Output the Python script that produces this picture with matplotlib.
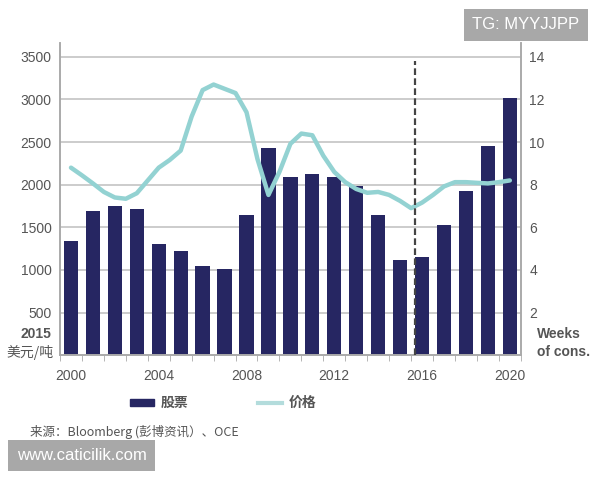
import matplotlib.pyplot as plt
from matplotlib.lines import Line2D
from matplotlib.patches import Patch

plt.rcParams['font.family'] = ['Liberation Sans', 'Noto Sans CJK SC', 'DejaVu Sans']

# stocks, weeks of consumption (bars, right axis)
years = list(range(2000, 2021))
stocks = [5.38, 6.78, 7.0, 6.86, 5.21, 4.88, 4.18, 4.05, 6.58, 9.7, 8.37,
          8.5, 8.34, 7.95, 6.59, 4.47, 4.63, 6.13, 7.7, 9.81, 12.08]

# price, 2015 USD/t (line, left axis)
price_years = [2000.0, 2000.5, 2001.0, 2001.5, 2002.0, 2002.5, 2003.0, 2003.5,
               2004.0, 2004.5, 2005.0, 2005.5, 2006.0, 2006.5, 2007.0, 2007.5,
               2008.0, 2008.5, 2009.0, 2009.5, 2010.0, 2010.5, 2011.0, 2011.5,
               2012.0, 2012.5, 2013.0, 2013.5, 2014.0, 2014.5, 2015.0, 2015.5,
               2016.0, 2016.5, 2017.0, 2017.5, 2018.0, 2018.5, 2019.0, 2019.5,
               2020.0]
price = [2200, 2110, 2015, 1915, 1850, 1835, 1900, 2050,
         2200, 2290, 2400, 2800, 3110, 3175, 3125, 3075,
         2850, 2300, 1880, 2150, 2480, 2600, 2580, 2340,
         2150, 2030, 1950, 1905, 1915, 1880, 1810, 1725,
         1790, 1880, 1980, 2030, 2030, 2022, 2015, 2030,
         2050]

xlabels = [2000, 2004, 2008, 2012, 2016, 2020]
left_ticks = [500, 1000, 1500, 2000, 2500, 3000, 3500]
right_ticks = [2, 4, 6, 8, 10, 12, 14]
forecast_start = 2015.7

bar_col = '#262662'
line_col = '#93d2d2'
txt_col = '#555555'
grid_col = '#c4c4c4'

fig = plt.figure(figsize=(6, 4.8), dpi=100)
ax = fig.add_axes([0.1, 0.26, 0.768, 0.65])
ax2 = ax.twinx()

# bars + grid on the back axis
ax2.bar(years, stocks, width=0.65, color=bar_col, zorder=2)
ax2.set_ylim(0, 14.64)
ax2.set_yticks(right_ticks)
ax2.grid(axis='y', color=grid_col, linewidth=1.2, zorder=0)
ax2.set_axisbelow(True)

# line on the front axis
ax.set_zorder(ax2.get_zorder() + 1)
ax.patch.set_visible(False)
ax.plot(price_years, price, color=line_col, linewidth=3.2,
        solid_capstyle='round', solid_joinstyle='round', zorder=3)
ax.set_ylim(0, 3660)
ax.set_yticks(left_ticks)
ax.axvline(forecast_start, ymax=3450 / 3660, color='#444444',
           linestyle=(0, (3, 1.5)), linewidth=1.6, zorder=4)

ax.set_xlim(1999.5, 2020.5)
ax.set_xticks(xlabels)
ax.set_xticks([y + 0.5 for y in range(1999, 2021)], minor=True)
ax.tick_params(axis='x', which='major', length=0, pad=10, labelsize=10, labelcolor=txt_col)
ax.tick_params(axis='x', which='minor', length=4, color='#aaaaaa', direction='out')

for a in (ax, ax2):
    a.tick_params(axis='y', length=0, labelsize=10, labelcolor=txt_col, pad=6)
    a.spines['top'].set_visible(False)
    for s in ('left', 'right', 'bottom'):
        a.spines[s].set_color('#aaaaaa')
        a.spines[s].set_linewidth(1.2)

# unit labels
fig.text(0.085, 0.305, '2015', ha='right', va='center', fontsize=10,
         fontweight='bold', color=txt_col)
fig.text(0.09, 0.266, '美元/吨', ha='right', va='center', fontsize=10,
         color=txt_col, family=['Noto Sans CJK SC', 'DejaVu Sans'])
fig.text(0.895, 0.305, 'Weeks', ha='left', va='center', fontsize=10,
         fontweight='bold', color=txt_col)
fig.text(0.895, 0.266, 'of cons.', ha='left', va='center', fontsize=10,
         fontweight='bold', color=txt_col)

handles = [Patch(color=bar_col, label='股票'),
           Line2D([0], [0], color='#b3dcdc', linewidth=3, label='价格')]
leg = fig.legend(handles=handles, loc='center', bbox_to_anchor=(0.372, 0.16),
                 ncol=2, frameon=False, columnspacing=5, handlelength=1.7,
                 handletextpad=0.5, handleheight=0.4,
                 prop={'family': ['Noto Sans CJK SC', 'DejaVu Sans'],
                       'size': 10, 'weight': 'bold'})
for t in leg.get_texts():
    t.set_color(txt_col)

fig.text(0.05, 0.1, '来源：Bloomberg (彭博资讯）、OCE', ha='left', va='center',
         fontsize=9, color='#555555', family=['Noto Sans CJK SC', 'DejaVu Sans'])

# watermarks
fig.text(0.028, 0.051, 'www.caticilik.com', ha='left', va='center', fontsize=12,
         color='white', bbox=dict(facecolor='#a8a8a8', edgecolor='none', pad=6))
fig.text(0.787, 0.948, 'TG: MYYJJPP', ha='left', va='center', fontsize=12,
         color='white', bbox=dict(facecolor='#a8a8a8', edgecolor='none', pad=6))

fig.savefig('out.png', dpi=100)
